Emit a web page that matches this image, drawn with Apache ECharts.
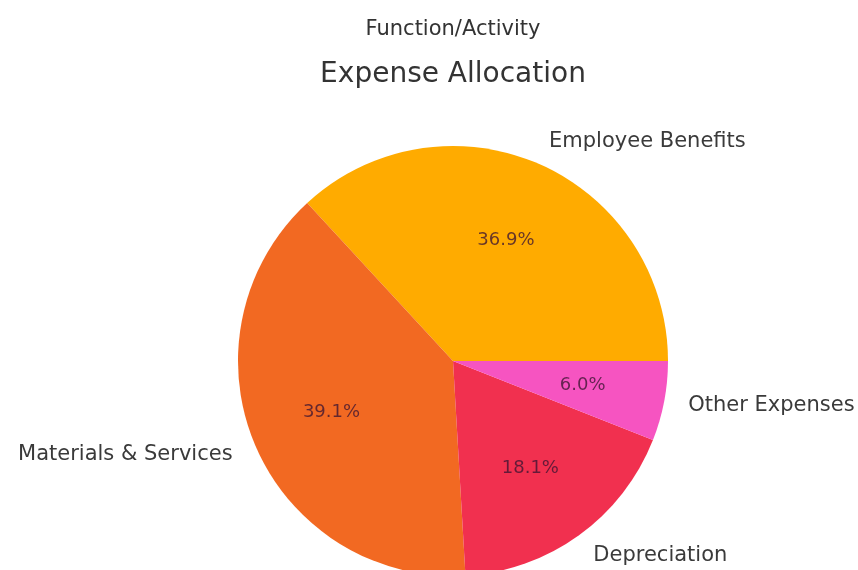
<!DOCTYPE html>
<html>
<head>
<meta charset="utf-8">
<script src="https://cdn.jsdelivr.net/npm/echarts@6/dist/echarts.min.js"></script>
<style>
  html, body { margin: 0; padding: 0; background: #ffffff; }
  #chart { width: 858px; height: 570px; }
</style>
</head>
<body>
<div id="chart"></div>
<script>
// Expense categories and their shares (percent)
const categories = ['Employee Benefits', 'Materials & Services', 'Depreciation', 'Other Expenses'];
const shares = [36.9, 39.1, 18.1, 6.0];
const colors = ['#ffab00', '#f26922', '#f1304f', '#f654c1'];

const R = 215;              // pie radius in px
const center = [453, 361];
const font = 'DejaVu Sans, Verdana, sans-serif';

// Mid-angle of each wedge (counter-clockwise from 3 o'clock) decides which side a name hangs off
const total = shares.reduce((a, b) => a + b, 0);
let acc = 0;
const sideSign = shares.map(v => {
  const mid = (acc + v / 2) / total * 2 * Math.PI;
  acc += v;
  return Math.cos(mid) >= 0 ? 1 : -1;
});

const pieData = categories.map((name, i) => ({
  name, value: shares[i], itemStyle: { color: colors[i] }
}));

// title anchor: pie centre minus the title box's default 5px padding
const titleX = center[0] - 5;

const chart = echarts.init(document.getElementById('chart'), null, { renderer: 'canvas' });
chart.setOption({
  animation: false,
  backgroundColor: '#ffffff',
  title: [
    // both titles are centred over the pie
    { text: 'Function/Activity', left: titleX, textAlign: 'center', top: 14,
      textStyle: { fontFamily: font, fontSize: 21, fontWeight: 'normal', color: '#333' } },
    { text: 'Expense Allocation', left: titleX, textAlign: 'center', top: 56,
      textStyle: { fontFamily: font, fontSize: 28, fontWeight: 'normal', color: '#333' } }
  ],
  series: [
    {
      // visible wedges
      type: 'pie',
      center: center,
      radius: [0, R],
      startAngle: 0,
      clockwise: false,
      silent: true,
      data: pieData,
      label: { show: false },
      labelLine: { show: false }
    },
    {
      // transparent disc used only to place percentages at 0.6 R
      type: 'pie',
      center: center,
      radius: [0, R * 1.2],
      startAngle: 0,
      clockwise: false,
      silent: true,
      z: 5,
      data: pieData.map(d => ({ name: d.name, value: d.value, itemStyle: { color: 'rgba(0,0,0,0)' } })),
      label: {
        show: true, position: 'inside',
        formatter: p => p.value.toFixed(1) + '%',
        fontFamily: font, fontSize: 18, color: 'rgba(60,20,50,0.78)'
      },
      labelLine: { show: false }
    },
    {
      // transparent disc used only to place category names at 1.1 R
      type: 'pie',
      center: center,
      radius: [0, R * 2.2],
      startAngle: 0,
      clockwise: false,
      silent: true,
      z: 5,
      data: pieData.map(d => ({ name: d.name, value: d.value, itemStyle: { color: 'rgba(0,0,0,0)' } })),
      label: {
        show: true, position: 'inside',
        formatter: p => p.name,
        fontFamily: font, fontSize: 21, color: '#3a3a3a'
      },
      labelLayout: p => ({ dx: sideSign[p.dataIndex] * p.labelRect.width / 2 }),
      labelLine: { show: false }
    }
  ]
});
</script>
</body>
</html>
